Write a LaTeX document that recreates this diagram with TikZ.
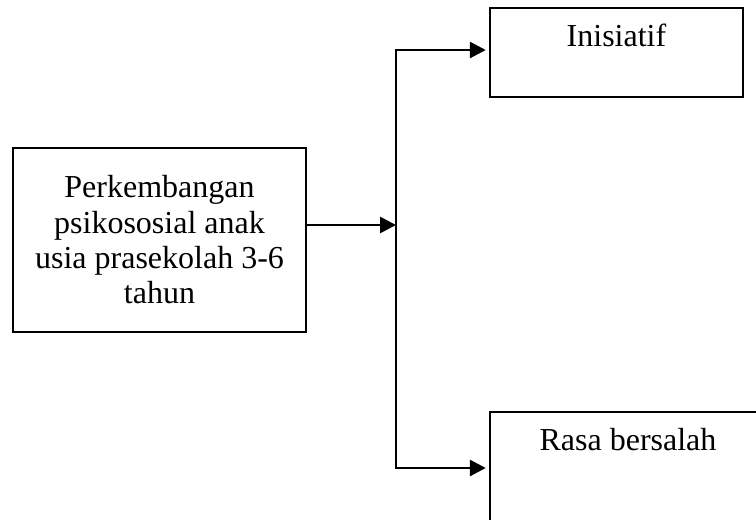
\documentclass[tikz,border=0pt]{standalone}
\usepackage{fontspec}
\setmainfont{Liberation Serif}
\usetikzlibrary{arrows.meta}
\tikzset{
  box/.style={draw, line width=1.3pt, align=center, font=\fontsize{24}{26.5}\selectfont},
  link/.style={line width=2.1pt, {Triangle[length=12pt,width=12pt]}-{Triangle[length=12pt,width=12pt]}, shorten <=2.5pt, shorten >=2.5pt},
  feed/.style={line width=2.1pt, -{Triangle[length=12pt,width=12pt]}}
}
\begin{document}
\begin{tikzpicture}[x=0.75pt, y=-0.75pt]
            \path[use as bounding box, clip] (0,0) rectangle (756,519);

            \node[box, minimum width=219.75pt, minimum height=138pt] (perk) at (159.5,240) {Perkembangan\\psikososial anak\\usia prasekolah 3-6\\tahun};
            \node[box, minimum width=189.75pt, minimum height=66.75pt, label={[below=9pt, font=\fontsize{24}{26.5}\selectfont]north:Inisiatif}] (ini) at (616.5,52.5) {};
            \node[box, minimum width=207pt, minimum height=90pt, label={[below=9pt, font=\fontsize{24}{26.5}\selectfont]north:Rasa bersalah}] (rasa) at (628,472) {};

            \coordinate (split) at (396,225);
            \coordinate (up) at (396,50);
            \coordinate (down) at (396,468);

            \draw[feed] (split -| perk.east) to (split);
            \draw[link, line join=miter] (up -| ini.west) -- (up) -- (down) -- (down -| rasa.west);
        \end{tikzpicture}
\end{document}
